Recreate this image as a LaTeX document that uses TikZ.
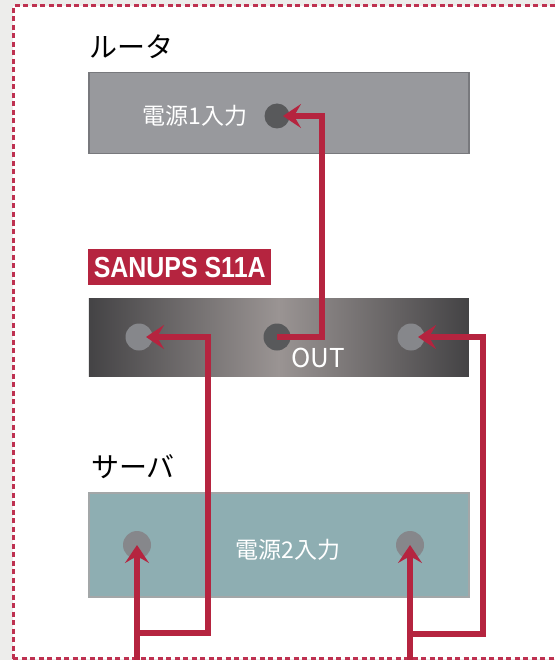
\documentclass[tikz,border=0pt]{standalone}
\usepackage{fontspec}
\setmainfont{Noto Sans CJK JP}
\newfontfamily\lbl[FakeStretch=0.86]{Liberation Sans}
\usetikzlibrary{arrows.meta,calc}
\definecolor{ured}{HTML}{B5243F}
\definecolor{dashred}{HTML}{BE3150}
\definecolor{bggray}{HTML}{EDEDEB}
\definecolor{routerfill}{HTML}{98999D}
\definecolor{routerline}{HTML}{78797D}
\definecolor{serverfill}{HTML}{8EAEB2}
\definecolor{serverline}{HTML}{A3A7A8}
\definecolor{portdark}{HTML}{58595B}
\definecolor{portlight}{HTML}{86878B}
\definecolor{upsdark}{HTML}{444345}
\definecolor{upslight}{HTML}{9A9493}
\tikzset{
  box/.style={rectangle, anchor=north west, minimum width=380pt, inner sep=0pt, line width=1.5pt},
  port/.style={circle, minimum size=27pt, inner sep=0pt, draw=none},
  wire/.style={draw=ured, line width=5.5pt, line join=miter,
    -{Stealth[length=18pt,width=24pt,inset=7pt]}},
  devlabel/.style={anchor=west, font=\fontsize{28}{28}\selectfont, inner sep=0pt},
  intext/.style={text=white, font=\fontsize{23}{23}\selectfont, inner sep=0pt},
  border/.style={draw=dashred, line width=3pt, dash pattern=on 5pt off 3.5pt}
}
\begin{document}
\begin{tikzpicture}[x=1pt,y=-1pt]
\useasboundingbox (0,0) rectangle (555,660);
\fill[bggray] (0,0) rectangle (555,660);
\fill[white] (13,6) rectangle (555,659);
\draw[border] (555,6) -- (13,6) -- (13,660);
\draw[border] (13,658.5) -- (555,658.5);

% router
\node[devlabel] (lrouter) at (89,47) {ルータ};
\node[box, draw=routerline, fill=routerfill, minimum height=81pt] (router) at (88,72) {};
\node[intext] (t1) at (195,116) {電源1入力};
\node[port, fill=portdark, minimum size=25pt] (rin) at (277,116) {};

% UPS
\node[rectangle, anchor=north west, fill=ured, text=white, minimum width=183pt, minimum height=36pt, inner sep=0pt,
  font=\lbl\bfseries\fontsize{29}{29}\selectfont] (lups) at (88,249) {SANUPS S11A};
\node[box, minimum height=78pt, left color=upsdark, right color=upsdark, middle color=upslight] (ups) at (88,298) {};
\node[port, fill=portlight] (uin1) at (139,337) {};
\node[port, fill=portdark] (uout) at (277,337) {};
\node[port, fill=portlight] (uin2) at (411,337) {};
\node[text=white, font=\fontsize{26}{26}\selectfont, inner sep=0pt] (outl) at (318,358) {OUT};

% server
\node[devlabel] (lserver) at (91,467) {サーバ};
\node[box, draw=serverline, fill=serverfill, minimum height=104pt] (server) at (88,492) {};
\node[port, fill=portlight, minimum size=28pt] (sin1) at (137,545) {};
\node[port, fill=portlight, minimum size=28pt] (sin2) at (410,545) {};
\node[intext] (t2) at (288,550) {電源2入力};

% coordinates
\coordinate (rtip) at ($(rin.center)+(6,0)$);
\coordinate (k0) at (322,116);
\coordinate (utip1) at ($(uin1.center)+(7,0)$);
\coordinate (utip2) at ($(uin2.center)+(7,0)$);
\coordinate (b1) at (137,662);
\coordinate (b2) at (410,662);
\coordinate (j1) at (137,633);
\coordinate (j2) at (410,634);
\coordinate (k1) at (208,337);
\coordinate (k2) at (483,337);

% wires
\draw[wire] (uout.center) -| (k0) -- (rtip);
\draw[wire] (j1) -| (k1) -- (utip1);
\draw[wire] (j2) -| (k2) -- (utip2);
\draw[wire] (b1) -- (sin1.center);
\draw[wire] (b2) -- (sin2.center);
\end{tikzpicture}
\end{document}
